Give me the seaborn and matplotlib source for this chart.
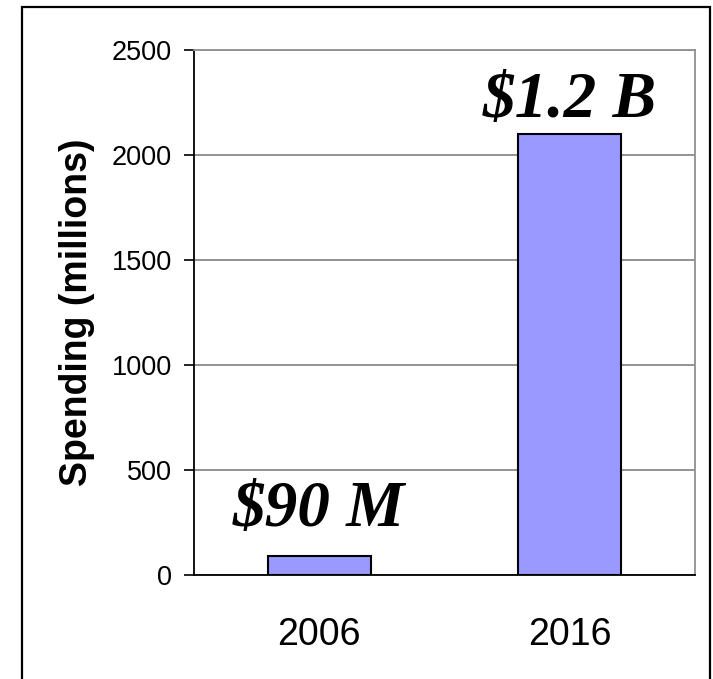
import matplotlib
matplotlib.use("Agg")
import matplotlib.pyplot as plt
import seaborn as sns
import pandas as pd
from matplotlib.patches import Rectangle
from matplotlib.ticker import FixedLocator

years = ["2006", "2016"]
spending = [90, 2100]
labels = ["$90 M", "$1.2 B"]
label_y = [233, 2181]
yticks = [0, 500, 1000, 1500, 2000, 2500]

sns.set_theme(style="white")
plt.rcParams["font.family"] = ["Liberation Sans", "DejaVu Sans"]
plt.rcParams["text.color"] = "black"
plt.rcParams["xtick.color"] = "black"
plt.rcParams["ytick.color"] = "black"
plt.rcParams["axes.labelcolor"] = "black"

df = pd.DataFrame({"year": years, "spending": spending})

fig = plt.figure(figsize=(7.13, 6.79), dpi=100)
ax = fig.add_axes([194 / 713, 1 - 575 / 679, 501 / 713, 525 / 679])

sns.barplot(data=df, x="year", y="spending", color="#9999FF", saturation=1,
            edgecolor="black", linewidth=1.5, width=0.41, ax=ax, zorder=3)

ax.set_xlim(-0.5, 1.5)
ax.set_ylim(0, 2500)
ax.set_yticks(yticks)
ax.set_yticklabels([str(v) for v in yticks], fontsize=19.5)
ax.yaxis.grid(True, color="#808080", linewidth=1.2, zorder=0)
ax.set_axisbelow(True)

ax.xaxis.set_minor_locator(FixedLocator([-0.5, 0.5, 1.5]))
ax.tick_params(axis="x", which="major", length=0, labelsize=27, pad=30,
               colors="black", labelcolor="black")
ax.tick_params(axis="x", which="minor", length=9, width=1.2, color="black", direction="out")
ax.tick_params(axis="y", length=7.5, width=1.2, color="black", direction="out",
               pad=8.5, left=True, labelcolor="black")

ax.set_xlabel("")
ax.set_ylabel("Spending (millions)", fontsize=27, fontweight="bold", color="black")
ax.yaxis.set_label_coords(-0.198, 0.5)

for side in ["left", "bottom"]:
    ax.spines[side].set_color("black")
    ax.spines[side].set_linewidth(1.3)
for side in ["top", "right"]:
    ax.spines[side].set_color("#909090")
    ax.spines[side].set_linewidth(1.3)

for i, (txt, yv) in enumerate(zip(labels, label_y)):
    ax.text(i, yv, txt, ha="center", va="baseline", fontsize=47,
            fontweight="bold", fontstyle="italic", family="Liberation Serif",
            color="black", zorder=5)

border = Rectangle((22 / 713, -0.05), (710 - 22) / 713, 1 - 7 / 679 + 0.05,
                   transform=fig.transFigure, fill=False, edgecolor="black",
                   linewidth=1.6, clip_on=False)
fig.add_artist(border)

fig.savefig("out.png", dpi=100)
